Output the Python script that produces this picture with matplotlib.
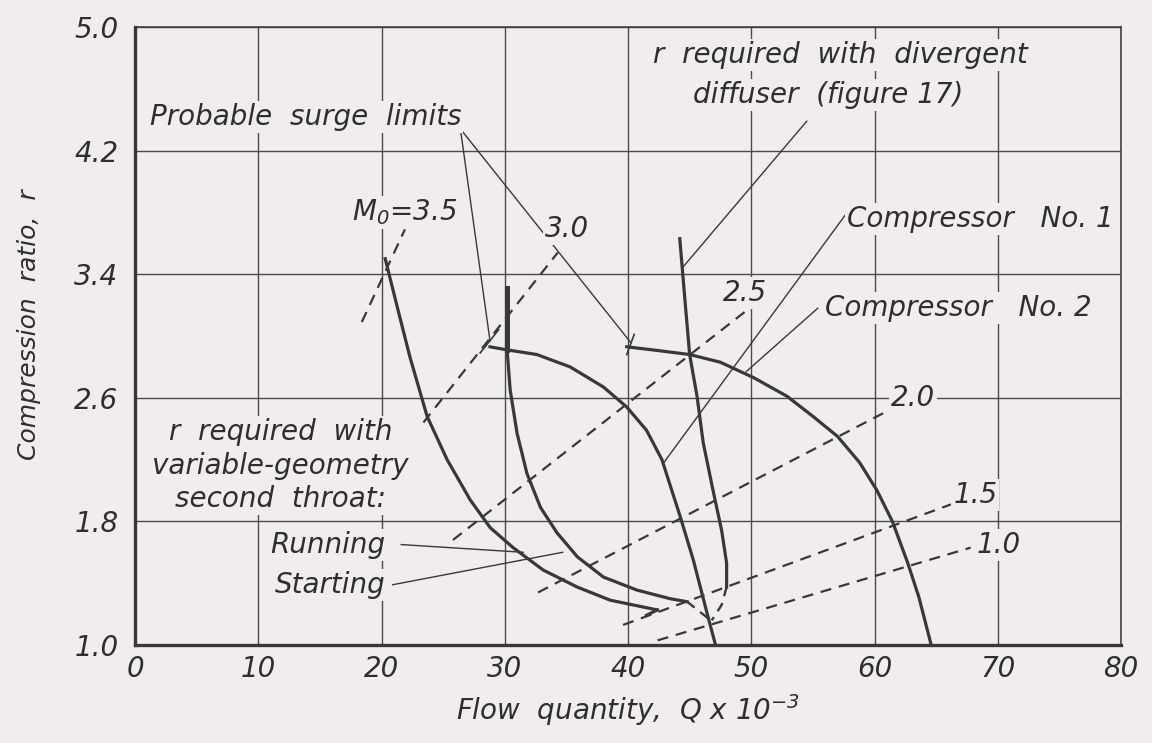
import numpy as np
from matplotlib import pyplot as plt

plt.rcParams['font.family'] = ['DejaVu Sans']
plt.rcParams['font.style'] = 'italic'
plt.rcParams['mathtext.default'] = 'it'

bg = '#f1eded'
ink = '#383838'
txt = '#2e2e2e'

# curves (Q x 10^-3, r)
running_x = [20.3, 21.27, 22.32, 23.7, 25.32, 27.19, 28.81, 30.68, 33.12, 35.88, 38.56, 42.37]
running_y = [3.50, 3.19, 2.86, 2.48, 2.20, 1.94, 1.76, 1.63, 1.485, 1.375, 1.29, 1.227]
running_tail_x = [42.37, 41.5]
running_tail_y = [1.227, 1.192]

starting_x = [30.19, 30.19, 30.44, 31.0, 31.8, 32.9, 34.25, 35.9, 38.0, 40.7, 43.4, 44.8]
starting_y = [3.31, 2.91, 2.65, 2.37, 2.11, 1.89, 1.725, 1.57, 1.44, 1.356, 1.30, 1.28]
starting_dash_x = [44.8, 46.7]
starting_dash_y = [1.28, 1.16]

comp1_x = [28.8, 30.2, 32.6, 35.3, 38.0, 39.9, 41.5, 42.75, 44.2, 45.3, 46.4, 47.1]
comp1_y = [2.93, 2.91, 2.88, 2.80, 2.67, 2.54, 2.39, 2.20, 1.84, 1.55, 1.21, 1.0]

comp2_x = [39.9, 42.0, 45.0, 47.5, 50.2, 52.9, 55.0, 57.0, 58.8, 60.2, 61.45, 62.7, 63.6, 64.6]
comp2_y = [2.93, 2.91, 2.88, 2.83, 2.73, 2.61, 2.48, 2.35, 2.18, 2.00, 1.80, 1.53, 1.31, 1.0]

diverg_x = [44.2, 44.6, 45.0, 45.6, 46.1, 46.9, 47.6, 48.0, 48.0]
diverg_y = [3.63, 3.25, 2.88, 2.61, 2.31, 2.00, 1.74, 1.53, 1.375]
diverg_dash_x = [48.0, 47.6, 46.8]
diverg_dash_y = [1.375, 1.26, 1.16]

# constant flight Mach number lines (dashed)
mach = ['3.5', '3.0', '2.5', '2.0', '1.5', '1.0']
mach_x = [[18.4, 21.9], [23.4, 34.3], [25.8, 49.7], [32.7, 60.7], [39.6, 66.2], [42.4, 67.8]]
mach_y = [[3.09, 3.69], [2.44, 3.54], [1.68, 3.17], [1.34, 2.50], [1.13, 1.91], [1.03, 1.63]]

xticks = [0, 10, 20, 30, 40, 50, 60, 70, 80]
yticks = [1.0, 1.8, 2.6, 3.4, 4.2, 5.0]

fig = plt.figure(figsize=(11.52, 7.43), dpi=100, facecolor=bg)
ax = fig.add_axes([0.1172, 0.1319, 0.8559, 0.8318], facecolor=bg)
ax.set_xlim(0, 80)
ax.set_ylim(1.0, 5.0)
ax.set_xticks(xticks)
ax.set_yticks(yticks)
ax.set_xticklabels([str(t) for t in xticks])
ax.set_yticklabels(['%.1f' % t for t in yticks])
ax.tick_params(length=0, labelsize=20, colors=txt)
ax.tick_params(axis='x', pad=7)
ax.tick_params(axis='y', pad=12)
ax.grid(True, color='#4a4a4a', lw=1.0)
ax.set_axisbelow(True)
for s in ['left', 'bottom']:
    ax.spines[s].set_linewidth(2.4)
for s in ['top', 'right']:
    ax.spines[s].set_linewidth(1.1)
for s in ax.spines.values():
    s.set_color(ink)

lw_main = 2.3
dash = (0, (4, 3))
ax.plot(running_x, running_y, color=ink, lw=lw_main)
ax.plot(running_tail_x, running_tail_y, color=ink, lw=lw_main)
ax.plot(starting_x, starting_y, color=ink, lw=lw_main)
ax.plot(starting_x[:2], starting_y[:2], color=ink, lw=3.6)  # heavy top part
ax.plot(starting_dash_x, starting_dash_y, color=ink, lw=1.7, ls=dash)
ax.plot(comp1_x, comp1_y, color=ink, lw=lw_main)
ax.plot(comp2_x, comp2_y, color=ink, lw=lw_main)
ax.plot(diverg_x, diverg_y, color=ink, lw=lw_main)
ax.plot(diverg_dash_x, diverg_dash_y, color=ink, lw=1.7, ls=dash)

for mx, my in zip(mach_x, mach_y):
    ax.plot(mx, my, color=ink, lw=1.6, ls=(0, (5, 3.5)))

# surge limit ticks
ax.plot([28.0, 29.5], [2.89, 3.04], color=ink, lw=1.2)
ax.plot([39.9, 40.5], [2.88, 3.01], color=ink, lw=1.2)

# leader lines
lead = dict(color=ink, lw=1.0)
ax.plot([26.4, 28.8], [4.34, 2.97], **lead)
ax.plot([26.4, 40.2], [4.34, 2.96], **lead)
ax.plot([54.5, 44.5], [4.39, 3.45], **lead)
ax.plot([57.6, 42.9], [3.78, 2.18], **lead)
ax.plot([55.4, 49.6], [3.18, 2.77], **lead)
ax.plot([21.6, 31.5], [1.65, 1.60], **lead)
ax.plot([20.9, 34.7], [1.39, 1.60], **lead)

tb = dict(facecolor=bg, edgecolor='none', pad=1.5)
fs = 20
ax.text(1.2, 4.42, 'Probable  surge  limits', fontsize=fs, color=txt, va='center', bbox=tb)
ax.text(42.0, 4.82, 'r  required  with  divergent', fontsize=fs, color=txt, va='center', bbox=tb)
ax.text(45.3, 4.56, 'diffuser  (figure 17)', fontsize=fs, color=txt, va='center', bbox=tb)
ax.text(17.6, 3.80, r'M$_0$=3.5', fontsize=fs, color=txt, va='center', bbox=tb)
ax.text(33.3, 3.69, mach[1], fontsize=fs, color=txt, va='center', bbox=tb)
ax.text(47.7, 3.28, mach[2], fontsize=fs, color=txt, va='center', bbox=tb)
ax.text(61.3, 2.60, mach[3], fontsize=fs, color=txt, va='center', bbox=tb)
ax.text(66.4, 1.97, mach[4], fontsize=fs, color=txt, va='center', bbox=tb)
ax.text(68.3, 1.65, mach[5], fontsize=fs, color=txt, va='center', bbox=tb)
ax.text(57.8, 3.76, 'Compressor   No. 1', fontsize=fs, color=txt, va='center', bbox=tb)
ax.text(56.0, 3.18, 'Compressor   No. 2', fontsize=fs, color=txt, va='center', bbox=tb)
ax.text(11.8, 2.16, 'r  required  with\nvariable-geometry\nsecond  throat:', fontsize=fs,
        color=txt, ha='center', va='center', linespacing=1.25, bbox=tb)
ax.text(20.3, 1.65, 'Running', fontsize=fs, color=txt, ha='right', va='center', bbox=tb)
ax.text(20.3, 1.39, 'Starting', fontsize=fs, color=txt, ha='right', va='center', bbox=tb)

ax.set_xlabel(r'Flow  quantity,  Q x 10$^{-3}$', fontsize=20, color=txt, labelpad=7)
ax.set_ylabel('Compression  ratio,  r', fontsize=18, color=txt)
ax.yaxis.set_label_coords(-0.095, 0.518)

fig.savefig('out.png', dpi=100, facecolor=bg)
